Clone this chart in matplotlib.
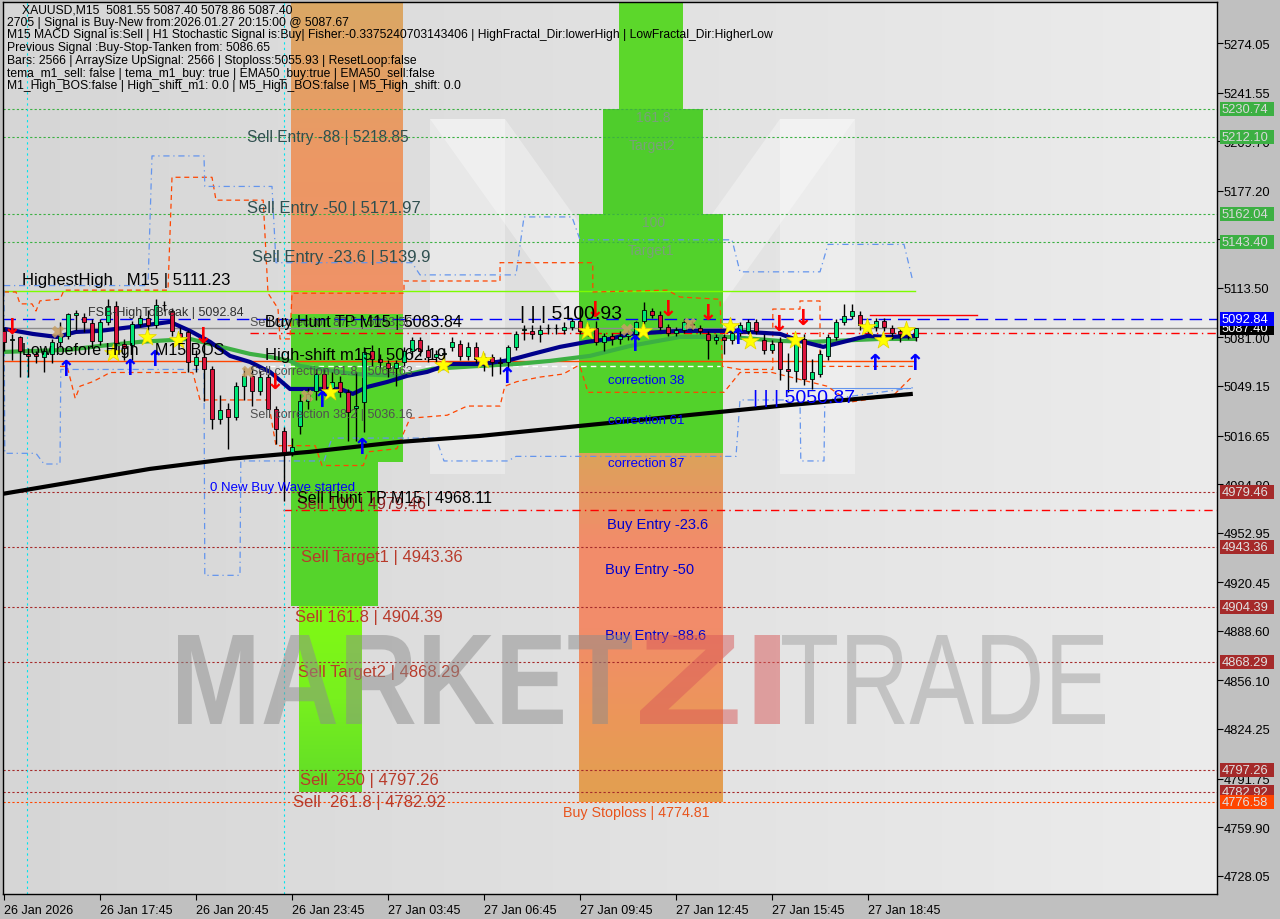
import numpy as np
import matplotlib
matplotlib.use("Agg")
import matplotlib.pyplot as plt
from matplotlib.patches import Rectangle, PathPatch
from matplotlib.textpath import TextPath
from matplotlib.font_manager import FontProperties
from matplotlib.transforms import Affine2D

plt.rcParams['font.family'] = ['Liberation Sans', 'DejaVu Sans']

# ---------------- data ----------------
opens = [5085, 5079, 5081, 5070, 5070, 5068, 5070, 5078, 5082, 5096, 5094.5, 5090.5, 5078.7, 5091, 5101.6,
         5077, 5076, 5090, 5094, 5089, 5102, 5098, 5084, 5084.6, 5063, 5068, 5060, 5027.6, 5034, 5029,
         5049, 5056, 5046, 5055, 5034, 5019.7, 5006, 5023, 5039, 5046, 5057, 5048, 5052, 5045, 5035,
         5038.6, 5072, 5067, 5064, 5061, 5065, 5072, 5079, 5073, 5068, 5070, 5075, 5077, 5069, 5075,
         5067, 5068, 5065, 5065, 5075, 5086, 5085, 5083, 5087, 5087, 5086, 5088, 5092, 5085, 5087,
         5078, 5082, 5080, 5082, 5083, 5092, 5098, 5096, 5088, 5084, 5086, 5090, 5087, 5083, 5079,
         5081, 5079, 5084, 5085, 5091, 5079, 5073, 5078, 5060, 5059, 5080, 5054, 5057, 5069, 5081,
         5091, 5095, 5096, 5089, 5088, 5092, 5087, 5085, 5083, 5081.55]
closes = [5078, 5080, 5072, 5069, 5068.5, 5072, 5078, 5082, 5096.4, 5097, 5091, 5078.7, 5091, 5101.6, 5077.4,
          5074, 5090, 5094, 5089, 5102, 5102.5, 5085, 5081, 5065, 5068, 5060, 5027.6, 5033.5, 5029, 5049,
          5056, 5046, 5055, 5034, 5021, 5006, 5009, 5039, 5044, 5057, 5047, 5052, 5045, 5032, 5036,
          5071.3, 5067, 5065, 5061, 5064, 5072, 5079, 5072, 5068, 5070, 5071, 5078, 5069, 5075, 5067,
          5068, 5065, 5064, 5075, 5083, 5086.5, 5083, 5086, 5087.3, 5087.5, 5088, 5092, 5085.5, 5087, 5078,
          5082, 5080, 5082, 5083, 5091, 5099, 5096, 5088, 5084, 5086, 5091, 5089, 5085, 5079, 5081,
          5079, 5084, 5089, 5091, 5085, 5073, 5077, 5060, 5059, 5078, 5054, 5058, 5070, 5081, 5091,
          5095, 5098, 5089, 5088, 5092, 5088, 5084, 5083, 5083.5, 5087.40]
highs = [5088, 5083, 5082, 5074, 5072, 5074, 5080, 5091, 5097, 5099, 5097, 5093, 5093, 5106, 5105,
         5080, 5092, 5096, 5099, 5106, 5105, 5100, 5088, 5086, 5073, 5080, 5062, 5043, 5038, 5052,
         5061, 5062, 5059, 5057, 5036, 5022, 5015, 5044, 5048, 5060, 5060, 5058, 5056, 5047, 5058,
         5075, 5076, 5070, 5066, 5066, 5075, 5081, 5081, 5076, 5073, 5074, 5081, 5079, 5078, 5078,
         5071, 5070, 5068, 5076, 5085, 5089, 5089, 5089, 5090, 5090, 5091, 5094, 5100.9, 5090, 5092,
         5084, 5084, 5085, 5086, 5092, 5104, 5100, 5098, 5090, 5088, 5093, 5092, 5089, 5085, 5083,
         5083, 5086, 5091, 5093, 5093, 5083, 5079, 5081, 5071, 5081, 5083, 5067, 5073, 5083, 5093,
         5103, 5103, 5098, 5091, 5094, 5094, 5089, 5087, 5086, 5087.40]
lows = [5072, 5066, 5055, 5055, 5064, 5058, 5064, 5075, 5080, 5086, 5084.6, 5074, 5076, 5089, 5069,
        5066, 5066, 5088, 5086, 5087, 5098, 5082, 5076, 5058, 5058, 5039, 5021, 5024, 5008, 5027,
        5040, 5036, 5043, 5034, 5011, 4974, 5003, 5018, 5034, 5040, 5043, 5045, 5042, 5013, 5013,
        5019, 5062, 5060, 5055, 5049, 5062, 5068, 5069, 5065, 5064, 5066, 5072, 5066, 5066, 5064,
        5059, 5056, 5057, 5061, 5073, 5079, 5080, 5078, 5083, 5083, 5083, 5086, 5083, 5082, 5076,
        5072, 5076, 5077, 5079, 5080, 5090, 5094, 5086, 5082, 5082, 5084, 5086, 5083, 5067, 5077,
        5070, 5077, 5082, 5083, 5083, 5070, 5071, 5053, 5045, 5052, 5050, 5047, 5055, 5066, 5079,
        5089, 5093, 5086, 5084, 5085, 5085, 5080, 5078, 5080, 5078.86]

# moving averages (bar index, price)
navy_idx = [0, 3.6, 6.6, 9, 12, 17, 20.75, 23.25, 25.75, 28.25, 30.75, 33.25, 35.75, 39.5, 42, 43.6, 45.4,
            47.9, 50.4, 52.9, 55.75, 59.9, 63.25, 66.1, 69.5, 72.9, 75.75, 78.25, 84.5, 90.75, 97, 99.5,
            102.4, 105.4, 107.9, 110.4, 114]
navy_val = [5086.6, 5083.3, 5081.3, 5084.6, 5085.3, 5088.5, 5091.2, 5085.3, 5078.1, 5068.9, 5064.9, 5058.4,
            5047.2, 5047.2, 5047.2, 5044.0, 5048.5, 5051.8, 5055.8, 5058.4, 5063.6, 5063.6, 5066.2, 5070.2,
            5074.8, 5078.1, 5080.0, 5083.3, 5085.3, 5085.3, 5083.3, 5078.7, 5074.8, 5078.7, 5082.0, 5081.3, 5082.0]
green_idx = [0, 7.9, 12, 17, 23.25, 25.75, 28.25, 30.75, 33.25, 35.75, 37, 43.6, 49.5, 53.6, 59.5, 64.1,
             68.25, 73.25, 78.25, 84.5, 90.75, 97, 101.1, 109.5, 114]
green_val = [5071.5, 5072.8, 5075.4, 5078.1, 5080.0, 5076.7, 5073.4, 5070.2, 5068.2, 5065.6, 5062.3, 5057.1,
             5055.8, 5060.4, 5062.3, 5063.6, 5065.6, 5068.9, 5075.4, 5081.3, 5081.3, 5078.7, 5078.1, 5080.0, 5080.0]
black_idx = [-0.2, 18.25, 28.25, 38.25, 49.5, 59.5, 72, 84.5, 97, 113.6]
black_val = [4978.4, 4994.8, 5001.4, 5006.0, 5012.5, 5016.4, 5023.0, 5029.5, 5036.1, 5044.0]

# channel (step) lines (bar index, price)
orng_up_idx = [0, 1.5, 2, 3.5, 4, 4.5, 7, 7.5, 20.5, 21, 26, 26.5, 32.4, 33, 34.25, 34.5, 35.75,
               36, 50, 50, 62, 62, 73.6, 73.6, 82.9, 84.5, 89.5, 89.8, 92, 96.1, 96.1, 99.5, 99.5, 102, 102, 113.6]
orng_up_val = [5110.8, 5110.8, 5103, 5103, 5098.3, 5105, 5106, 5112, 5112, 5186, 5186, 5171, 5171, 5110, 5100, 5080, 5080,
               5110, 5110, 5118, 5118, 5130, 5130, 5110.8, 5112, 5107.5, 5106, 5062, 5060, 5060, 5099.6, 5099.6,
               5104.9, 5104.9, 5062, 5062]
orng_lo_idx = [7, 7.9, 8.9, 9.5, 11.1, 12.4, 13.25, 23.6, 24.5, 33, 34, 38.9, 39.75, 44.9, 45.5, 49.1, 50.75,
               55.4, 57.9, 62, 62.6, 64.1, 67, 69.9, 71.6, 72, 73, 90, 92, 96, 102.9, 105.75, 111.1, 113.6]
orng_lo_val = [5062, 5062, 5041, 5049, 5052, 5055.5, 5058, 5058, 5040, 5040, 5010, 5010, 4997, 4997, 5006, 5008, 5028,
               5030, 5036, 5036, 5049, 5052, 5055, 5057, 5062, 5062, 5045, 5045, 5058, 5058, 5049, 5038.6, 5042.6, 5055.7]
blue_up_idx = [0, 18, 18.5, 25, 25.1, 33.5, 34, 51, 52, 64, 65, 71, 72, 91, 92, 102, 103, 112.5, 113.6]
blue_up_val = [5115, 5115, 5200, 5200, 5180, 5180, 5130, 5130, 5122, 5122, 5160, 5160, 5145, 5145, 5124, 5124, 5142, 5142, 5118]
blue_lo_idx = [0, 0.1, 1, 4, 5, 7, 7.1, 25, 25.1, 29.5, 29.6, 40, 41, 54, 55, 63, 64, 91.5, 92, 99.5, 99.6, 102.5, 102.6, 113.6]
blue_lo_val = [5112, 5005, 5005, 5005, 4998, 4998, 5060, 5060, 4925, 4925, 5000, 5000, 5015, 5015, 5000, 5000, 5003, 5003,
               5040, 5040, 5000, 5000, 5040, 5048]

# signal markers (bar index, price)
star_idx = [13.6, 17.9, 21.75, 40.75, 54.9, 59.9, 72.9, 79.9, 90.75, 93.25, 98.9, 107.9, 109.9, 112.75]
star_val = [5070.8, 5081.3, 5079.4, 5045.3, 5063.0, 5066.2, 5085.3, 5085.3, 5088.5, 5078.7, 5079.4, 5087.9, 5079.4, 5085.9]
cross_idx = [6.75, 30.5, 37.9, 77.9, 85.75]
cross_val = [5084.6, 5058.4, 5042.6, 5086.0, 5089.9]
down_idx = [1.0, 24.9, 33.9, 73.9, 83.0, 88.0, 96.9, 99.9]
down_val = [5088, 5082, 5052, 5099, 5100, 5097, 5090, 5094]
up_idx = [7.75, 15.75, 18.9, 39.75, 44.75, 62.9, 78.9, 91.75, 108.9, 113.9]
up_val = [5060, 5061, 5067, 5040, 5009, 5056, 5077, 5081, 5064, 5064]

# horizontal levels
lvl_green = [5230.74, 5212.10, 5162.04, 5143.40]
lvl_red = [4979.46, 4943.36, 4904.39, 4868.29, 4797.26, 4782.92]
lvl_stop = 4776.58
fsb_level = 5092.84
bid = 5087.40
highest_high = 5111.23
buy_hunt_tp = 5083.84
sell_hunt_tp = 4968.11
high_shift = 5062.19
shift_line = 5065.5
box_level = 5047.9
red_short = 5096.0

ytick_vals = [5274.05, 5241.55, 5209.70, 5177.20, 5145.35, 5113.50, 5081.00, 5049.15, 5016.65, 4984.80,
              4952.95, 4920.45, 4888.60, 4856.10, 4824.25, 4791.75, 4759.90, 4728.05]
xtick_idx = [0, 12, 24, 36, 48, 60, 72, 84, 96, 108]
xtick_lbl = ['26 Jan 2026', '26 Jan 17:45', '26 Jan 20:45', '26 Jan 23:45', '27 Jan 03:45',
             '27 Jan 06:45', '27 Jan 09:45', '27 Jan 12:45', '27 Jan 15:45', '27 Jan 18:45']

header = ["XAUUSD,M15  5081.55 5087.40 5078.86 5087.40",
          "2705 | Signal is Buy-New from:2026.01.27 20:15:00 @ 5087.67",
          "M15 MACD Signal is:Sell | H1 Stochastic Signal is:Buy| Fisher:-0.3375240703143406 | HighFractal_Dir:lowerHigh | LowFractal_Dir:HigherLow",
          "Previous Signal :Buy-Stop-Tanken from: 5086.65",
          "Bars: 2566 | ArraySize UpSignal: 2566 | Stoploss:5055.93 | ResetLoop:false",
          "tema_m1_sell: false | tema_m1_buy: true | EMA50_buy:true | EMA50_sell:false",
          "M1_High_BOS:false | High_shift_m1: 0.0 | M5_High_BOS:false | M5_High_shift: 0.0"]

# ---------------- geometry helpers (pixel -> data) ----------------
W, H = 1280, 920
L_PX, R_PX, T_PX, B_PX = 3, 1217, 3, 895
SCALE = 1.5251


def bx(px):
    return (px - 4) / 8.0


def pr(py):
    return 5274.05 - (py - 44) / SCALE


fig = plt.figure(figsize=(W / 100, H / 100), dpi=100, facecolor='#c0c0c0')
ax = fig.add_axes([L_PX / W, 1 - B_PX / H, (R_PX - L_PX) / W, (B_PX - T_PX) / H])
ax.set_xlim(bx(L_PX), bx(R_PX))
ax.set_ylim(pr(B_PX), pr(T_PX))
x0, x1 = ax.get_xlim()
y0, y1 = ax.get_ylim()

# background gradient
grad = np.linspace(0, 1, 256)[:, None]
bg = np.zeros((1, 256, 3))
c_l = np.array([214, 214, 214]) / 255
c_r = np.array([236, 236, 236]) / 255
bg[0] = c_l + (c_r - c_l) * grad
ax.imshow(bg, extent=[x0, x1, y0, y1], aspect='auto', zorder=0)

# faint logo shapes
logo_col = (1, 1, 1, 0.33)
for poly in ([(430, 120), (505, 120), (505, 475), (430, 475)],
             [(780, 120), (855, 120), (855, 475), (780, 475)],
             [(430, 120), (505, 120), (655, 330), (580, 330)],
             [(780, 120), (855, 120), (705, 330), (630, 330)]):
    ax.fill([bx(p[0]) for p in poly], [pr(p[1]) for p in poly], color=logo_col, lw=0, zorder=0.5)


def wm(text, xa, xb, ya, yb, color, weight):
    fp = FontProperties(family='Liberation Sans', weight=weight)
    tp = TextPath((0, 0), text, size=100, prop=fp)
    bb = tp.get_extents()
    sx = (xb - xa) / bb.width
    sy = (yb - ya) / bb.height
    tr = Affine2D().translate(-bb.x0, -bb.y0).scale(sx, sy).translate(xa, H - yb)
    patch = PathPatch(tr.transform_path(tp), facecolor=color, edgecolor='none', transform=None, zorder=0.6)
    fig.patches.append(patch)


def vgrad(xa, xb, pa, pb, cols, z=1):
    n = 64
    arr = np.zeros((n, 1, 3))
    cols = [np.array(cc) / 255 for cc in cols]
    for k in range(n):
        t = k / (n - 1) * (len(cols) - 1)
        j = min(int(t), len(cols) - 2)
        f = t - j
        arr[k, 0] = cols[j] * (1 - f) + cols[j + 1] * f
    ax.imshow(arr, extent=[xa, xb, pa, pb], aspect='auto', origin='upper', zorder=z)


# zones
vgrad(bx(291), bx(403), y1, pr(315), [(240, 146, 104), (236, 152, 100), (218, 168, 100)])
ax.add_patch(Rectangle((bx(291), pr(463)), bx(403) - bx(291), pr(315) - pr(463), color='#55d42b', lw=0, zorder=1))
ax.add_patch(Rectangle((bx(291), pr(607)), bx(378) - bx(291), pr(463) - pr(607), color='#55d42b', lw=0, zorder=1))
vgrad(bx(299), bx(362), pr(607), pr(793), [(96, 220, 40), (120, 240, 30), (128, 250, 20)])

ax.add_patch(Rectangle((bx(619), pr(110)), bx(683) - bx(619), y1 - pr(110), color='#5cd72b', lw=0, zorder=1))
ax.add_patch(Rectangle((bx(603), pr(215)), bx(703) - bx(603), pr(110) - pr(215), color='#4fcd2c', lw=0, zorder=1))
ax.add_patch(Rectangle((bx(579), pr(455)), bx(723) - bx(579), pr(215) - pr(455), color='#52d22b', lw=0, zorder=1))
vgrad(bx(579), bx(723), pr(455), pr(803), [(226, 160, 80), (236, 150, 90), (242, 140, 106), (242, 140, 106), (220, 162, 90)])

# horizontal levels
for v in lvl_green:
    ax.axhline(v, color='#3cb043', lw=0.8, ls=(0, (2, 2)), zorder=2)
for v in lvl_red:
    ax.axhline(v, color='#a52a2a', lw=0.8, ls=(0, (2, 2)), zorder=2)
ax.axhline(lvl_stop, color='#ff4500', lw=0.8, ls=(0, (2, 2)), zorder=2)
ax.axhline(fsb_level, color='#0000ff', lw=1.0, ls=(0, (9, 5)), zorder=2)
ax.axhline(bid, color='#8c8c8c', lw=1.0, zorder=2)
ax.plot([x0, bx(915)], [highest_high] * 2, color='#7cfc00', lw=1.0, zorder=2)
ax.plot([bx(250), x1], [buy_hunt_tp] * 2, color='#ff0000', lw=1.0, ls=(0, (6, 3, 1, 3)), zorder=2)
ax.plot([bx(283), x1], [sell_hunt_tp] * 2, color='#ff0000', lw=1.0, ls=(0, (6, 3, 1, 3)), zorder=2)
ax.plot([x0, bx(915)], [shift_line] * 2, color='#ff4500', lw=1.0, zorder=2)
ax.plot([bx(250), bx(720)], [high_shift] * 2, color='white', lw=1.0, ls=(0, (4, 3)), zorder=2)
ax.plot([bx(790), bx(910)], [box_level] * 2, color='#6495ed', lw=0.8, zorder=2)
ax.plot([bx(870), bx(977)], [red_short] * 2, color='#ff0000', lw=1.0, zorder=2)

for px in (27, 284):
    ax.axvline(bx(px), color='#00e5ee', lw=0.8, ls=(0, (2, 3)), zorder=2)

# channels
ax.plot(orng_up_idx, orng_up_val, color='#ff4500', lw=0.9, ls=(0, (4, 3)), zorder=2.5)
ax.plot(orng_lo_idx, orng_lo_val, color='#ff4500', lw=0.9, ls=(0, (4, 3)), zorder=2.5)
ax.plot(blue_up_idx, blue_up_val, color='#6495ed', lw=0.9, ls=(0, (5, 3, 1, 3)), zorder=2.5)
ax.plot(blue_lo_idx, blue_lo_val, color='#6495ed', lw=0.9, ls=(0, (5, 3, 1, 3)), zorder=2.5)

# moving averages
ax.plot(black_idx, black_val, color='black', lw=3, zorder=3, solid_capstyle='butt')
ax.plot(green_idx, green_val, color='#3cb043', lw=3, zorder=3, solid_capstyle='butt')
ax.plot(navy_idx, navy_val, color='#00008b', lw=3, zorder=3.1, solid_capstyle='butt')

# candles
n = len(opens)
idx = np.arange(n)
o = np.array(opens); c = np.array(closes); hi = np.array(highs); lo = np.array(lows)
ax.vlines(idx, lo, hi, color='black', lw=1, zorder=4)
bw = 0.6
for i in range(n):
    up = c[i] >= o[i]
    bot = min(o[i], c[i]); h = max(abs(c[i] - o[i]), 0.4)
    ax.add_patch(Rectangle((i - bw / 2, bot), bw, h, facecolor='#00e676' if up else '#dc143c',
                           edgecolor='black', lw=0.6, zorder=4.2))

# markers
ax.scatter(star_idx, star_val, marker='*', s=180, color='#ffff00', edgecolors='#e6d200', linewidths=0.5, zorder=5)
ax.scatter(cross_idx, cross_val, marker='X', s=80, color='#c8a064', edgecolors='none', alpha=0.85, zorder=5)
for i, v in zip(down_idx, down_val):
    ax.text(i, v, '\u2193', color='#ff0000', fontsize=16, fontweight='bold', ha='center', va='center',
            family='DejaVu Sans', zorder=5.5)
for i, v in zip(up_idx, up_val):
    ax.text(i, v, '\u2191', color='#0000ff', fontsize=16, fontweight='bold', ha='center', va='center',
            family='DejaVu Sans', zorder=5.5)


# ---------------- chart texts ----------------
def T(px, py, s, color='black', size=11, z=6, **kw):
    ax.text(bx(px), pr(py), s, color=color, fontsize=size, ha='left', va='center', zorder=z, **kw)


T(247, 137, 'Sell Entry -88 | 5218.85', '#2f4f4f', 11.2)
T(247, 208, 'Sell Entry -50 | 5171.97', '#2f4f4f', 12)
T(252, 257, 'Sell Entry -23.6 | 5139.9', '#2f4f4f', 12)
T(22, 280, 'HighestHigh   M15 | 5111.23', 'black', 12)
T(88, 313, 'FSB-HighToBreak | 5092.84', '#303030', 9)
T(250, 323, 'Sell correction 87.5 | 5083.56', '#505050', 9)
T(265, 322, 'Buy Hunt TP M15 | 5083.84', 'black', 11.5)
T(22, 350, 'Low before High', 'black', 11.5)
T(155, 350, 'M15 BOS', 'black', 11.5)
T(265, 355, 'High-shift m15 | 5062.19', 'black', 12)
T(250, 372, 'Sell correction 61.8 | 5064.63', '#505050', 9)
T(250, 415, 'Sell correction 38.2 | 5036.16', '#505050', 9)
T(210, 488, '0 New Buy Wave started', '#0000ff', 9.5)
T(297, 504, 'Sell 100 | 4979.46', '#8b2323', 11.5)
T(297, 498, 'Sell Hunt TP M15 | 4968.11', 'black', 11.5)
T(301, 557, 'Sell Target1 | 4943.36', '#b83a2a', 12)
T(295, 617, 'Sell 161.8 | 4904.39', '#b83a2a', 12)
T(298, 672, 'Sell Target2 | 4868.29', '#b83a2a', 12)
T(300, 780, 'Sell  250 | 4797.26', '#b83a2a', 12)
T(293, 802, 'Sell  261.8 | 4782.92', '#b83a2a', 12)
T(563, 813, 'Buy Stoploss | 4774.81', '#e8541c', 10.3)
T(636, 118, '161.8', '#7aa07a', 10)
T(629, 146, 'Target2', '#7aa07a', 10)
T(642, 223, '100', '#7aa07a', 10)
T(628, 251, 'Target1', '#7aa07a', 10)
T(520, 314, '| | | 5100.93', 'black', 14)
T(753, 398, '| | | 5050.87', '#0000ff', 14)
T(608, 381, 'correction 38', '#0000ff', 9.5)
T(608, 421, 'correction 61', '#0000ff', 9.5)
T(608, 464, 'correction 87', '#0000ff', 9.5)
T(607, 525, 'Buy Entry -23.6', '#0000cd', 10.5)
T(605, 570, 'Buy Entry -50', '#0000cd', 10.5)
T(605, 636, 'Buy Entry -88.6', '#0000cd', 10.5)

for k, line in enumerate(header):
    ax.text(bx(7 if k else 22), pr(10 + 12.7 * k), line, fontsize=8.7, color='black', ha='left', va='center', zorder=7)

# ---------------- axes styling ----------------
ax.yaxis.tick_right()
ax.set_yticks(ytick_vals)
ax.set_yticklabels([f'{v:.2f}' for v in ytick_vals], fontsize=9.3)
ax.set_xticks(xtick_idx)
ax.set_xticklabels(xtick_lbl, fontsize=9, ha='left')
ax.tick_params(axis='both', direction='out', length=4, width=0.8, colors='black', pad=1)
ax.tick_params(axis='x', pad=3)
for s in ax.spines.values():
    s.set_color('black'); s.set_linewidth(1)

# right-axis price boxes (axes-x / data-y)
ytr = ax.get_yaxis_transform()
BX0 = (1220 - L_PX) / (R_PX - L_PX)
BXW = 54 / (R_PX - L_PX)
BH = 14 / SCALE


def box(v, fc, tc, z=8):
    ax.add_patch(Rectangle((BX0, v - BH / 2), BXW, BH, transform=ytr, facecolor=fc, edgecolor='none',
                           clip_on=False, zorder=z))
    ax.text(BX0 + 2 / (R_PX - L_PX), v, f'{v:.2f}', transform=ytr, fontsize=9.3, color=tc,
            ha='left', va='center', clip_on=False, zorder=z + 0.05)


for v in lvl_green:
    box(v, '#3cb043', '#d8d8d8')
box(bid, 'black', 'white', z=8)
box(fsb_level, '#0000ff', 'white', z=8.2)
for v in lvl_red:
    box(v, '#a52a2a', '#e0e0e0')
box(lvl_stop, '#ff4500', '#e0e0e0', z=8.2)

wm('MARKET', 178, 632, 636, 725, (0.55, 0.55, 0.55, 0.5), 'bold')
wm('ZI', 640, 780, 636, 725, (0.85, 0.35, 0.35, 0.5), 'bold')
wm('TRADE', 782, 1105, 636, 725, (0.6, 0.6, 0.6, 0.45), 'light')

fig.savefig('out.png', dpi=100, facecolor=fig.get_facecolor())
